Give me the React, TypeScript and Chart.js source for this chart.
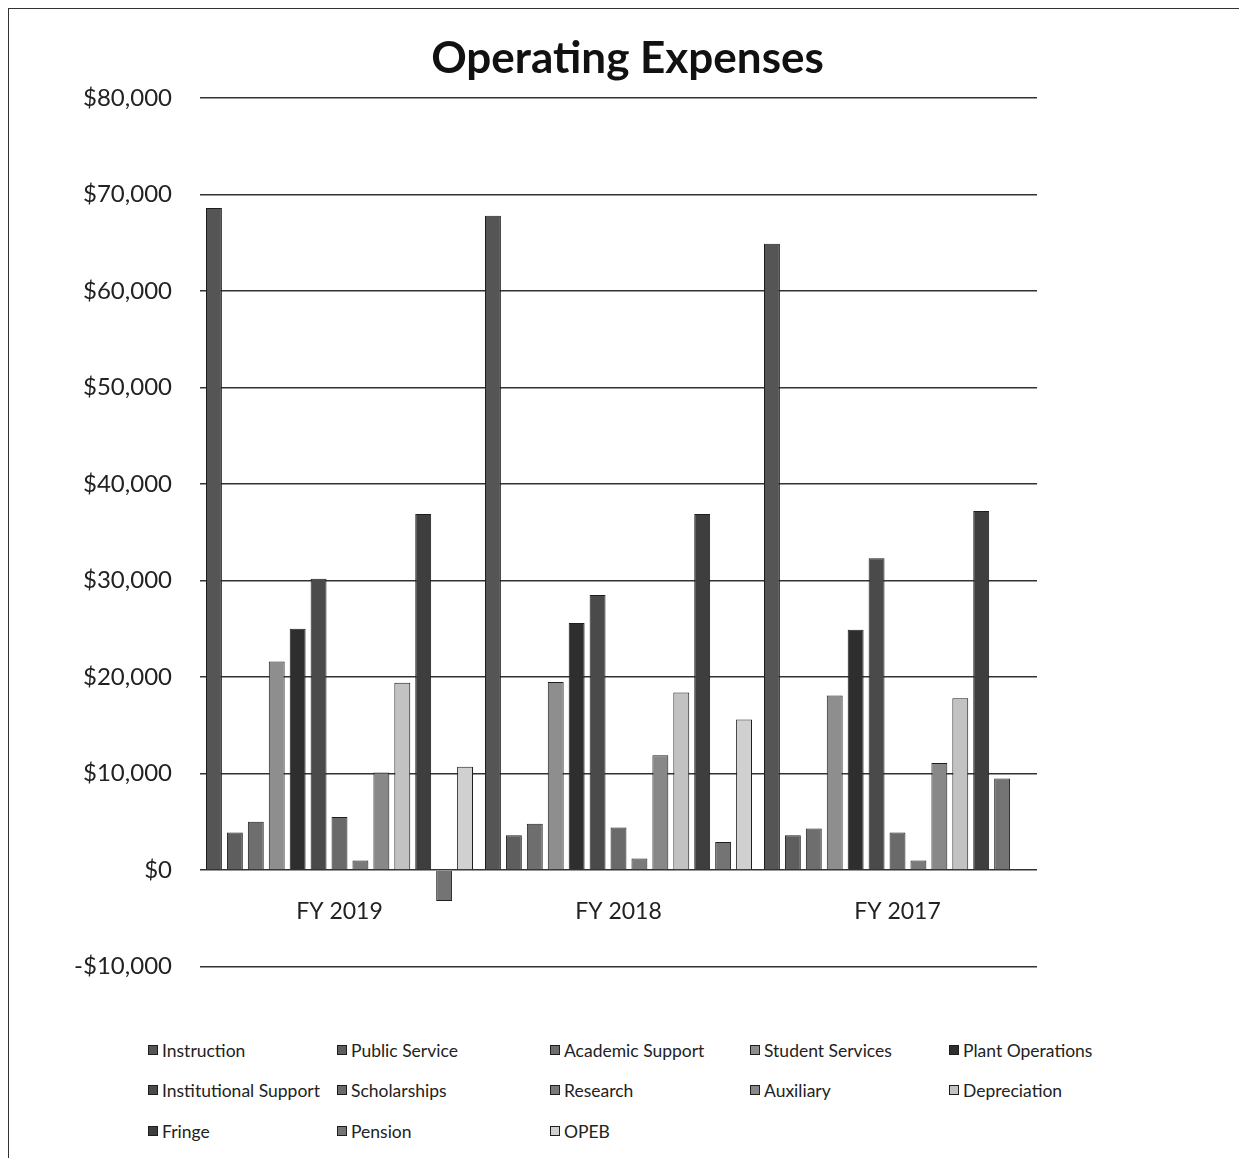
import React, { useEffect, useRef } from "react";
import { Chart, registerables } from "chart.js";

Chart.register(...registerables);

const categories = ["FY 2019", "FY 2018", "FY 2017"];

const seriesNames = [
  "Instruction",
  "Public Service",
  "Academic Support",
  "Student Services",
  "Plant Operations",
  "Institutional Support",
  "Scholarships",
  "Research",
  "Auxiliary",
  "Depreciation",
  "Fringe",
  "Pension",
  "OPEB",
];

const instruction = [68600, 67800, 64900];
const publicService = [3900, 3600, 3600];
const academicSupport = [5000, 4800, 4300];
const studentServices = [21600, 19500, 18100];
const plantOperations = [25000, 25600, 24900];
const institutionalSupport = [30200, 28500, 32300];
const scholarships = [5500, 4400, 3900];
const research = [1000, 1200, 1000];
const auxiliary = [10100, 11900, 11100];
const depreciation = [19400, 18400, 17800];
const fringe = [36900, 36900, 37200];
const pension = [-3200, 2900, 9500];
const opeb = [10700, 15600, 0];

const seriesValues = [
  instruction,
  publicService,
  academicSupport,
  studentServices,
  plantOperations,
  institutionalSupport,
  scholarships,
  research,
  auxiliary,
  depreciation,
  fringe,
  pension,
  opeb,
];

const seriesColors = [
  "#555555",
  "#5e5e5e",
  "#6e6e6e",
  "#8e8e8e",
  "#2e2e2e",
  "#4a4a4a",
  "#6a6a6a",
  "#7a7a7a",
  "#888888",
  "#c2c2c2",
  "#3e3e3e",
  "#747474",
  "#d0d0d0",
];

const titleText = "Operating Expenses";

const yTickValues = [80000, 70000, 60000, 50000, 40000, 30000, 20000, 10000, 0, -10000];

const legendColumns = [139, 328, 541, 741, 940];
const legendRows = [1041, 1081, 1122];

const FONT = "Lato, 'Open Sans', sans-serif";

const titlePlugin = {
  id: "centeredTitle",
  afterDraw(chart: any) {
    const ctx = chart.ctx;
    ctx.save();
    ctx.font = `bold 44px ${FONT}`;
    ctx.fillStyle = "#111";
    ctx.textAlign = "center";
    ctx.textBaseline = "middle";
    ctx.fillText(titleText, chart.width / 2 + 4, 50);
    ctx.restore();
  },
};

export default function App() {
  const canvasRef = useRef<HTMLCanvasElement | null>(null);

  useEffect(() => {
    if (!canvasRef.current) return;
    const chart = new Chart(canvasRef.current, {
      type: "bar",
      data: {
        labels: categories,
        datasets: seriesNames.map((name, i) => ({
          label: name,
          data: seriesValues[i],
          backgroundColor: seriesColors[i],
          borderColor: "#1e1e1e",
          borderWidth: 1,
          categoryPercentage: 0.975,
          barPercentage: 0.76,
        })),
      },
      plugins: [titlePlugin],
      options: {
        animation: false,
        responsive: false,
        layout: { padding: { left: 0, right: 201, top: 89, bottom: 31 } },
        plugins: {
          legend: { display: false },
          tooltip: { enabled: false },
          title: { display: false },
        },
        scales: {
          x: {
            type: "category",
            position: { y: 0 } as any,
            grid: { display: false },
            border: { display: false },
            ticks: {
              color: "#222",
              font: { family: FONT, size: 23 },
              padding: 20,
            },
          },
          y: {
            min: -10000,
            max: 80000,
            afterBuildTicks: (scale: any) => {
              scale.ticks = yTickValues.map((v) => ({ value: v }));
            },
            afterFit: (scale: any) => {
              scale.width = 191;
            },
            grid: { color: "#333", lineWidth: 1.5, drawTicks: false },
            border: { display: false },
            ticks: {
              color: "#222",
              font: { family: FONT, size: 24 },
              padding: 28,
              callback: (v: any) =>
                (Number(v) < 0 ? "-" : "") + "$" + Math.abs(Number(v)).toLocaleString("en-US"),
            },
          },
        },
      },
    });
    return () => chart.destroy();
  }, []);

  return (
    <div
      style={{
        position: "relative",
        width: 1231,
        height: 1150,
        borderLeft: "1.5px solid #333",
        borderTop: "1.5px solid #333",
        boxSizing: "border-box",
        fontFamily: FONT,
      }}
    >
      <canvas ref={canvasRef} width={1229} height={1000} style={{ display: "block" }} />
      {seriesNames.map((name, i) => {
        const col = i % 5;
        const row = Math.floor(i / 5);
        return (
          <div
            key={name}
            style={{
              position: "absolute",
              left: legendColumns[col],
              top: legendRows[row] - 11,
              height: 22,
              display: "flex",
              alignItems: "center",
              fontSize: 17.5,
              color: "#222",
              whiteSpace: "nowrap",
            }}
          >
            <span
              style={{
                display: "inline-block",
                width: 10,
                height: 10,
                background: seriesColors[i],
                border: "1px solid #1e1e1e",
                marginRight: 4,
                boxSizing: "border-box",
              }}
            />
            {name}
          </div>
        );
      })}
    </div>
  );
}
